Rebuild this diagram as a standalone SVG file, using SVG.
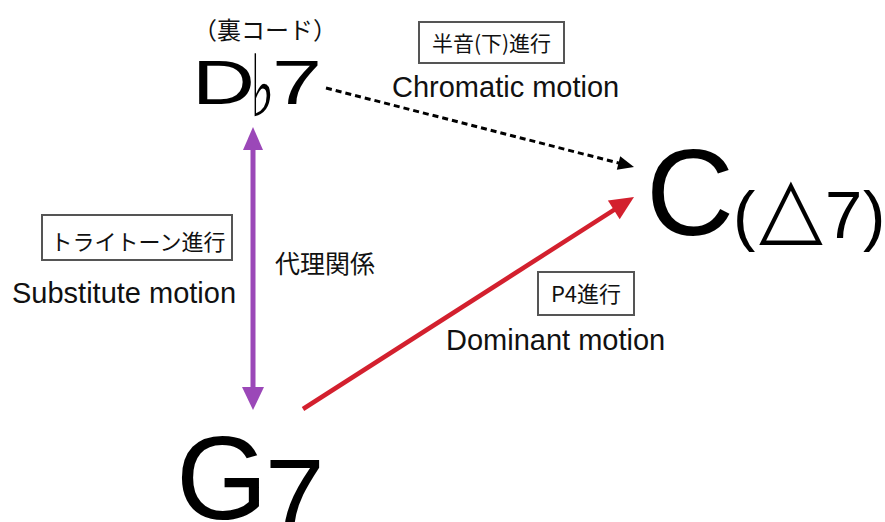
<svg xmlns="http://www.w3.org/2000/svg" width="885" height="522" viewBox="0 0 885 522">
<style>
.chord{font-family:"Liberation Sans",Arial,sans-serif;fill:#000}
.en{font-family:"Liberation Sans",Arial,sans-serif;font-size:29px;fill:#111}
.jp{font-family:"Noto Sans CJK JP",sans-serif;fill:#111}
.box{fill:#fff;stroke:#555;stroke-width:2}
.sym{font-family:"DejaVu Sans",sans-serif;fill:#000}
</style>
<rect width="885" height="522" fill="#fff"/>
<g id="connectors">
  <line x1="253" y1="148" x2="253" y2="389" stroke="#9b48b8" stroke-width="5"/>
  <polygon points="253,127 243,150 263,150" fill="#9b48b8"/>
  <polygon points="253,410 242,387 264,387" fill="#9b48b8"/>
  <line x1="303" y1="409" x2="616" y2="208.6" stroke="#d3202e" stroke-width="4.5"/>
  <polygon points="634,197 607.9,200.6 619.7,219.2" fill="#d3202e"/>
  <line x1="326" y1="88" x2="620" y2="163.4" stroke="#000" stroke-width="3" stroke-dasharray="6 4"/>
  <polygon points="634,167 620.2,156.2 616.8,169.8" fill="#000"/>
</g>
<g id="node-Db7">
  <text class="jp" x="193" y="39" font-size="24">（裏コード）</text>
  <text class="chord" x="192" y="104" font-size="63" textLength="63" lengthAdjust="spacingAndGlyphs">D</text>
  <text class="sym" transform="translate(250,116) scale(0.6,1)" x="0" y="0" font-size="86">♭</text>
  <text class="chord" x="272" y="104" font-size="63" textLength="50" lengthAdjust="spacingAndGlyphs">7</text>
</g>
<g id="node-C">
  <text class="chord" x="646" y="235" font-size="122">C</text>
  <text class="chord" x="733" y="238" font-size="67">(</text>
  <text class="sym" x="759" y="235" font-size="83">△</text>
  <text class="chord" x="825" y="238" font-size="67">7</text>
  <text class="chord" x="863" y="238" font-size="67">)</text>
</g>
<g id="node-G7">
  <text class="chord" x="176" y="519" font-size="118">G</text>
  <text class="chord" x="265" y="534" font-size="107">7</text>
</g>
<g id="label-chromatic">
  <rect class="box" x="419" y="22" width="145" height="41"/>
  <text class="jp" x="491.5" y="51" font-size="21" text-anchor="middle">半音(下)進行</text>
  <text class="en" x="392" y="97">Chromatic motion</text>
</g>
<g id="label-substitute">
  <rect class="box" x="42" y="215" width="190" height="45"/>
  <text class="jp" x="138" y="250" font-size="22" text-anchor="middle">トライトーン進行</text>
  <text class="en" x="12" y="303">Substitute motion</text>
  <text class="jp" x="275" y="273" font-size="25">代理関係</text>
</g>
<g id="label-dominant">
  <rect class="box" x="538" y="272" width="96" height="43"/>
  <text class="jp" x="586" y="302" font-size="22" text-anchor="middle">P4進行</text>
  <text class="en" x="446" y="350">Dominant motion</text>
</g>
</svg>
